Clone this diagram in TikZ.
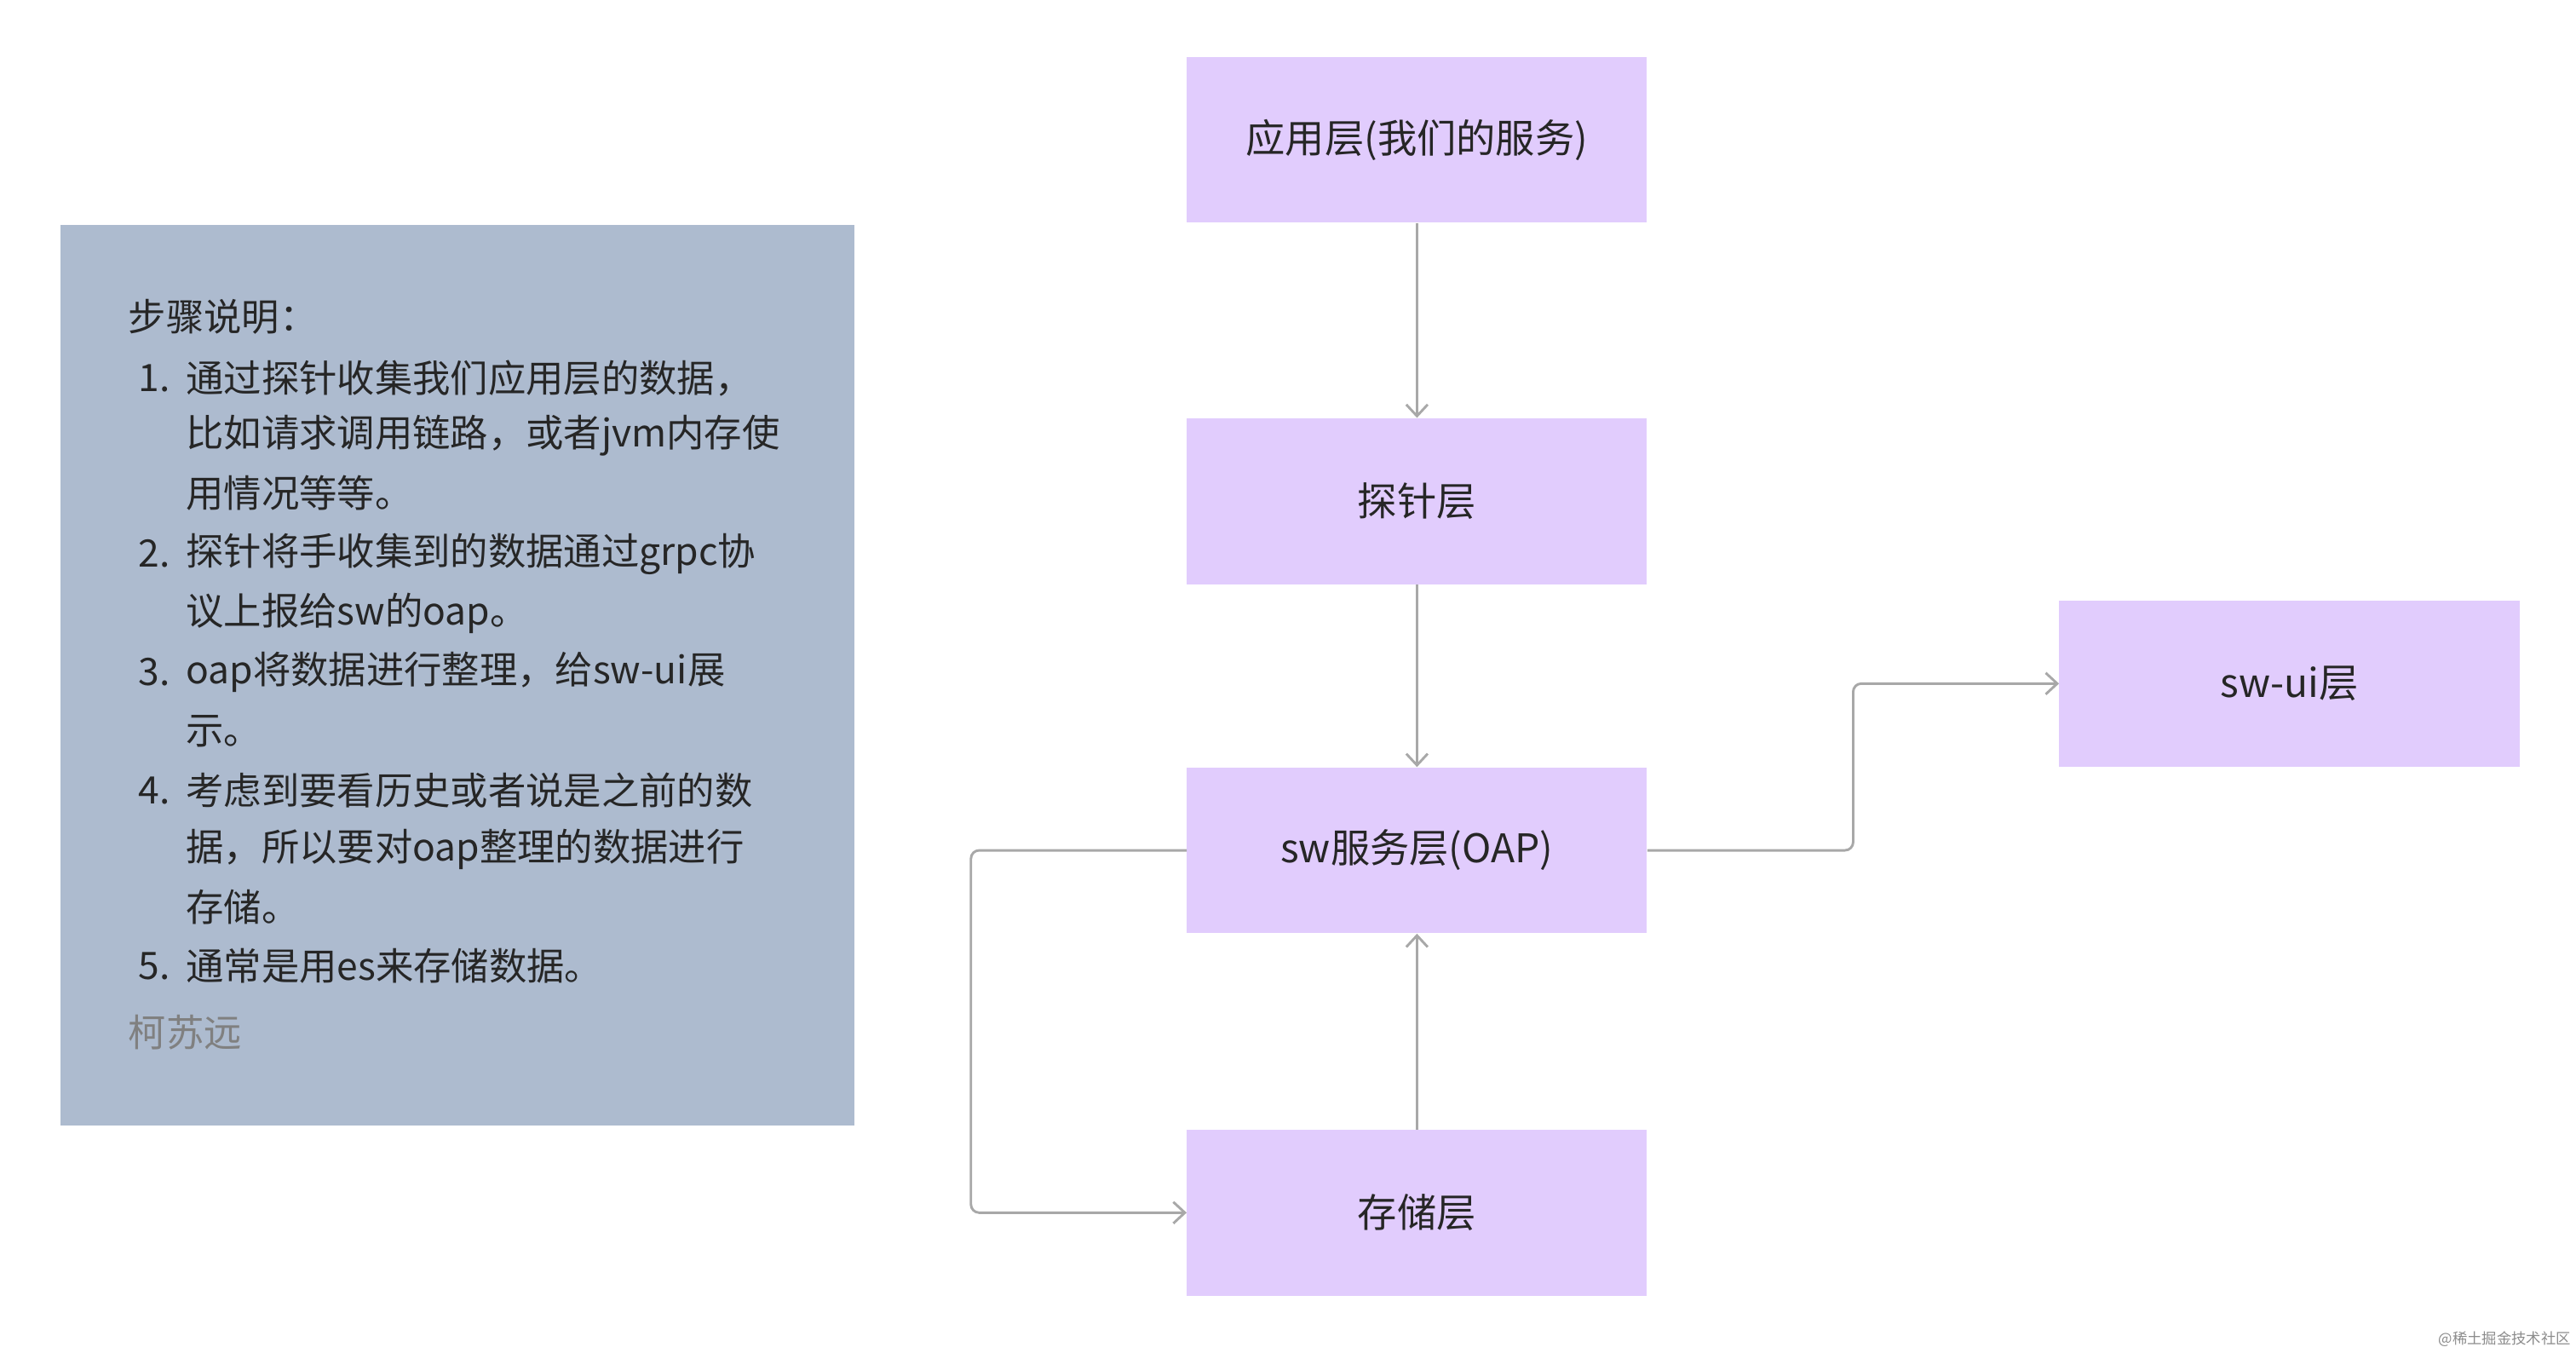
\documentclass[tikz,border=0pt]{standalone}
\usepackage{fontspec}
\setmainfont{Noto Sans CJK SC}
\usetikzlibrary{arrows.meta}
\definecolor{boxp}{HTML}{E1CCFD}
\definecolor{noteb}{HTML}{ADBBCF}
\definecolor{lin}{HTML}{A8A8A8}
\begin{document}
\begin{tikzpicture}[x=1pt,y=-1pt,
  layer/.style={draw=none,fill=boxp,minimum width=280pt,minimum height=101pt,inner sep=0pt,font=\fontsize{24}{28}\selectfont,text=black!85},
  conn/.style={draw=lin,line width=1.5pt,-{Straight Barb[length=7pt,width=13pt]},rounded corners=5pt},
  nt/.style={anchor=west,font=\fontsize{23}{28}\selectfont,text=black!85,inner sep=0pt}]
\useasboundingbox[fill=white] (0,0) rectangle (1568,823);
\fill[noteb] (37,137) rectangle (520,685);
\node[layer] (app) at (862.5,85) {应用层(我们的服务)};
\node[layer] (probe) at (862.5,305) {探针层};
\node[layer] (oap) at (862.5,517.5) {sw服务层(OAP)};
\node[layer] (store) at (862.5,738) {存储层};
\node[layer] (ui) at (1393.5,416) {sw-ui层};
\draw[conn] (app) -- (probe);
\draw[conn] (probe) -- (oap);
\draw[conn] (store) -- (oap);
\draw[conn] (oap.east) -- (1128,517.5) -- (1128,416) -- (ui.west);
\draw[conn] (oap.west) -- (591,517.5) -- (591,738) -- (store.west);
\node[nt] (t0) at (78,193) {步骤说明：};
\node[nt] (n1) at (84,230) {1.}; \node[nt] (l1) at (113,230) {通过探针收集我们应用层的数据，};
\node[nt] (l1b) at (113,265) {比如请求调用链路，或者jvm内存使};
\node[nt] (l1c) at (113,300) {用情况等等。};
\node[nt] (n2) at (84,337) {2.}; \node[nt] (l2) at (113,337) {探针将手收集到的数据通过grpc协};
\node[nt] (l2b) at (113,373) {议上报给sw的oap。};
\node[nt] (n3) at (84,409) {3.}; \node[nt] (l3) at (113,409) {oap将数据进行整理，给sw-ui展};
\node[nt] (l3b) at (113,445) {示。};
\node[nt] (n4) at (84,481) {4.}; \node[nt] (l4) at (113,481) {考虑到要看历史或者说是之前的数};
\node[nt] (l4b) at (113,517) {据，所以要对oap整理的数据进行};
\node[nt] (l4c) at (113,552) {存储。};
\node[nt] (n5) at (84,588) {5.}; \node[nt] (l5) at (113,588) {通常是用es来存储数据。};
\node[nt,text=black!50] (au) at (78,628) {柯苏远};
\node[anchor=east,font=\fontsize{9}{10}\selectfont,text=black!45,inner sep=0pt] (wm) at (1565,815) {@稀土掘金技术社区};
\end{tikzpicture}
\end{document}
